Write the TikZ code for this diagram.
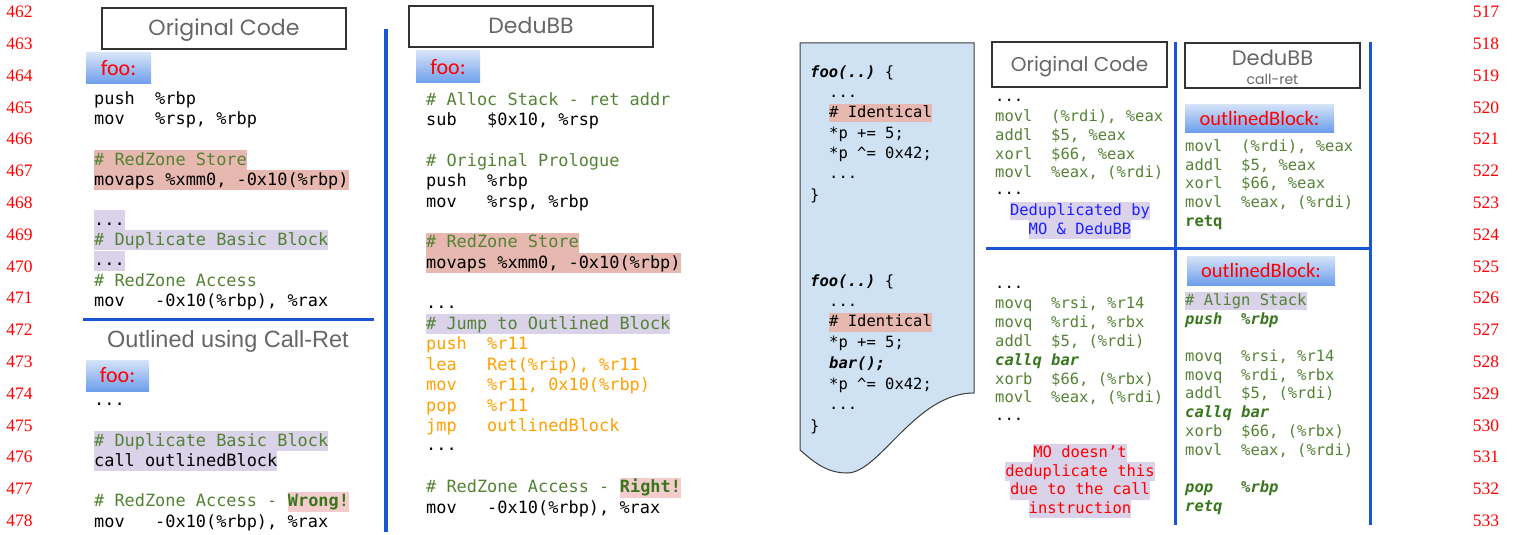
\documentclass[tikz,border=0pt]{standalone}
\usepackage{fontspec}
\usetikzlibrary{positioning}

\newfontfamily\codefont{DejaVu Sans Mono}
\newfontfamily\titlefont{Poppins}
\newfontfamily\tagfont{Carlito}
\newfontfamily\headfont{Liberation Sans}
\newfontfamily\numfont{Liberation Serif}

\definecolor{codegreen}{RGB}{84,130,53}
\definecolor{boldgreen}{RGB}{56,118,29}
\definecolor{codeorange}{RGB}{255,160,0}
\definecolor{hlpink}{RGB}{230,184,175}
\definecolor{hlpinklight}{RGB}{244,204,204}
\definecolor{hlpurple}{RGB}{217,210,233}
\definecolor{rulecol}{RGB}{25,85,210}
\definecolor{titlegray}{RGB}{102,102,102}
\definecolor{docfill}{RGB}{207,226,243}
\definecolor{docline}{RGB}{60,60,60}
\definecolor{tagtop}{RGB}{214,227,248}
\definecolor{tagbot}{RGB}{109,158,235}
\definecolor{dedublue}{RGB}{30,30,255}
\definecolor{numred}{RGB}{255,0,0}

\tikzset{
  code/.style={anchor=west, inner sep=0pt, text height=15pt, text depth=5pt,
    font=\codefont\fontsize{16.9pt}{20pt}\selectfont},
  smallcode/.style={anchor=west, inner sep=0pt, text height=13.7pt, text depth=4.8pt,
    font=\codefont\fontsize{15.5pt}{18.7pt}\selectfont},
  titlebox/.style={draw=black!80, line width=1.2pt, inner sep=0pt, text=titlegray,
    text height=15pt, text depth=0pt, font=\titlefont\fontsize{22pt}{26pt}\selectfont},
  tag/.style={inner sep=0pt, top color=tagtop, bottom color=tagbot, text=red,
    font=\tagfont\fontsize{22pt}{24pt}\selectfont},
  lineno/.style={text=numred, font=\numfont\fontsize{17.5pt}{19pt}\selectfont},
  divider/.style={rulecol, line width=3pt},
}

\begin{document}
\begin{tikzpicture}[x=1pt,y=-1pt]
\useasboundingbox (0,0) rectangle (1513,535);

% line numbers, left margin
\node[lineno] (ln462) at (19.5,12) {462};
\node[lineno] (ln463) at (19.5,43.8) {463};
\node[lineno] (ln464) at (19.5,75.6) {464};
\node[lineno] (ln465) at (19.5,107.4) {465};
\node[lineno] (ln466) at (19.5,139.2) {466};
\node[lineno] (ln467) at (19.5,171) {467};
\node[lineno] (ln468) at (19.5,202.8) {468};
\node[lineno] (ln469) at (19.5,234.6) {469};
\node[lineno] (ln470) at (19.5,266.4) {470};
\node[lineno] (ln471) at (19.5,298.2) {471};
\node[lineno] (ln472) at (19.5,330) {472};
\node[lineno] (ln473) at (19.5,361.8) {473};
\node[lineno] (ln474) at (19.5,393.6) {474};
\node[lineno] (ln475) at (19.5,425.4) {475};
\node[lineno] (ln476) at (19.5,457.2) {476};
\node[lineno] (ln477) at (19.5,489) {477};
\node[lineno] (ln478) at (19.5,520.8) {478};

% line numbers, right margin
\node[lineno] (ln517) at (1486,12) {517};
\node[lineno] (ln518) at (1486,43.8) {518};
\node[lineno] (ln519) at (1486,75.6) {519};
\node[lineno] (ln520) at (1486,107.4) {520};
\node[lineno] (ln521) at (1486,139.2) {521};
\node[lineno] (ln522) at (1486,171) {522};
\node[lineno] (ln523) at (1486,202.8) {523};
\node[lineno] (ln524) at (1486,234.6) {524};
\node[lineno] (ln525) at (1486,266.4) {525};
\node[lineno] (ln526) at (1486,298.2) {526};
\node[lineno] (ln527) at (1486,330) {527};
\node[lineno] (ln528) at (1486,361.8) {528};
\node[lineno] (ln529) at (1486,393.6) {529};
\node[lineno] (ln530) at (1486,425.4) {530};
\node[lineno] (ln531) at (1486,457.2) {531};
\node[lineno] (ln532) at (1486,489) {532};
\node[lineno] (ln533) at (1486,520.8) {533};

%%% left: original code
\node[titlebox, minimum width=244pt, minimum height=41pt] (origtitle) at (224,28.5) {Original Code};
\node[tag, minimum width=65pt, minimum height=31pt] (origfoo) at (118.5,68.5) {foo:};

\node[code] (o1) at (94,99) {push~~\%rbp};
\node[code] (o2) at (94,119.4) {mov~~~\%rsp, \%rbp};
\node[code, fill=hlpink, text=codegreen] (o3) at (94,160) {\#~RedZone~Store};
\node[code, fill=hlpink] (o4) at (94,180.4) {movaps \%xmm0, -0x10(\%rbp)};
\node[code, fill=hlpurple] (o5) at (94,220) {...};
\node[code, fill=hlpurple, text=codegreen] (o6) at (94,240.4) {\#~Duplicate Basic Block};
\node[code, fill=hlpurple] (o7) at (94,260.8) {...};
\node[code, text=codegreen] (o8) at (94,281.4) {\#~RedZone Access};
\node[code] (o9) at (94,301.8) {mov~~~-0x10(\%rbp), \%rax};

\draw[divider] (83,319) -- (374,319);

%%% left: outlined with call-ret
\node[text=titlegray, font=\headfont\fontsize{23.5pt}{26pt}\selectfont] (crhead) at (228,341) {Outlined using Call-Ret};
\node[tag, minimum width=63pt, minimum height=31pt] (crfoo) at (117.5,375.5) {foo:};

\node[code] (c1) at (94,400) {...};
\node[code, fill=hlpurple, text=codegreen] (c2) at (94,441) {\#~Duplicate Basic Block};
\node[code, fill=hlpurple] (c3) at (94,461.4) {call outlinedBlock};
\node[code, text=codegreen] (c4) at (94,501.6) {\#~RedZone Access -~\null};
\node[code, right=0pt of c4, fill=hlpinklight, text=boldgreen, font=\codefont\bfseries\fontsize{16.9pt}{20pt}\selectfont] (c4w) {Wrong!};
\node[code] (c5) at (94,522) {mov~~~-0x10(\%rbp), \%rax};

\draw[divider, line width=3.5pt] (386,29) -- (386,532);

%%% middle: DeduBB
\node[titlebox, minimum width=244pt, minimum height=41pt] (dedutitle) at (531,26.5) {DeduBB};
\node[tag, minimum width=64pt, minimum height=32pt] (dedufoo) at (448,67) {foo:};

\node[code, text=codegreen] (d1) at (426,100) {\#~Alloc Stack - ret addr};
\node[code] (d2) at (426,120.4) {sub~~~\$0x10, \%rsp};
\node[code, text=codegreen] (d3) at (426,161.2) {\#~Original Prologue};
\node[code] (d4) at (426,181.6) {push~~\%rbp};
\node[code] (d5) at (426,202) {mov~~~\%rsp, \%rbp};
\node[code, fill=hlpink, text=codegreen] (d6) at (426,242.8) {\#~RedZone Store};
\node[code, fill=hlpink] (d7) at (426,263.2) {movaps \%xmm0, -0x10(\%rbp)};
\node[code] (d8) at (426,303) {...};
\node[code, fill=hlpurple, text=codegreen] (d9) at (426,324.4) {\#~Jump to Outlined Block};
\node[code, text=codeorange] (d10) at (426,344.8) {push~~\%r11};
\node[code, text=codeorange] (d11) at (426,365.2) {lea~~~Ret(\%rip), \%r11};
\node[code, text=codeorange] (d12) at (426,385.6) {mov~~~\%r11, 0x10(\%rbp)};
\node[code, text=codeorange] (d13) at (426,406) {pop~~~\%r11};
\node[code, text=codeorange] (d14) at (426,426.4) {jmp~~~outlinedBlock};
\node[code] (d15) at (426,445.8) {...};
\node[code, text=codegreen] (d16) at (426,487.6) {\#~RedZone Access -~\null};
\node[code, right=0pt of d16, fill=hlpinklight, text=boldgreen, font=\codefont\bfseries\fontsize{16.9pt}{20pt}\selectfont] (d16r) {Right!};
\node[code] (d17) at (426,508) {mov~~~-0x10(\%rbp), \%rax};

%%% right: source snippet on a document sheet
\draw[docline, fill=docfill, line width=1pt] (800,43) -- (974,43) -- (974,393)
  .. controls (915,393) and (880,473) .. (847,473)
  .. controls (825,473) and (812,460) .. (800,450) -- cycle;

\node[smallcode] (s1) at (810,73) {{\bfseries\itshape foo(..)}~\{};
\node[smallcode] (s2) at (829,93.4) {...};
\node[smallcode, fill=hlpink] (s3) at (829,113) {\#~Identical};
\node[smallcode] (s4) at (829,133.6) {*p += 5;};
\node[smallcode] (s5) at (829,154.2) {*p \textasciicircum= 0x42;};
\node[smallcode] (s6) at (829,174.2) {...};
\node[smallcode] (s7) at (810,196) {\}};

\node[smallcode] (t1) at (810,282) {{\bfseries\itshape foo(..)}~\{};
\node[smallcode] (t2) at (829,302) {...};
\node[smallcode, fill=hlpink] (t3) at (829,322.4) {\#~Identical};
\node[smallcode] (t4) at (829,343.4) {*p += 5;};
\node[smallcode, font=\codefont\bfseries\itshape\fontsize{15.5pt}{18.7pt}\selectfont] (t5) at (829,364) {bar();};
\node[smallcode] (t6) at (829,384.8) {*p \textasciicircum= 0x42;};
\node[smallcode] (t7) at (829,404.6) {...};
\node[smallcode] (t8) at (810,427) {\}};

%%% right: original code
\node[titlebox, minimum width=175pt, minimum height=45pt, text height=14pt, font=\titlefont\fontsize{20pt}{24pt}\selectfont] (origtitle2) at (1079.5,64.5) {Original Code};

\node[smallcode] (r1) at (995,97) {...};
\node[smallcode, text=codegreen] (r2) at (995,117.3) {movl~~(\%rdi), \%eax};
\node[smallcode, text=codegreen] (r3) at (995,136) {addl~~\$5, \%eax};
\node[smallcode, text=codegreen] (r4) at (995,154.7) {xorl~~\$66, \%eax};
\node[smallcode, text=codegreen] (r5) at (995,173.4) {movl~~\%eax, (\%rdi)};
\node[smallcode] (r6) at (995,190.5) {...};
\node[smallcode, anchor=center, fill=hlpurple, text=dedublue] (r7) at (1080,211) {Deduplicated by};
\node[smallcode, anchor=center, fill=hlpurple, text=dedublue] (r8) at (1080,229.6) {MO \& DeduBB};

\node[smallcode] (b1) at (995,284) {...};
\node[smallcode, text=codegreen] (b2) at (995,304.4) {movq~~\%rsi, \%r14};
\node[smallcode, text=codegreen] (b3) at (995,323.2) {movq~~\%rdi, \%rbx};
\node[smallcode, text=codegreen] (b4) at (995,342) {addl~~\$5, (\%rdi)};
\node[smallcode, text=boldgreen, font=\codefont\bfseries\itshape\fontsize{15.5pt}{18.7pt}\selectfont] (b5) at (995,360.8) {callq bar};
\node[smallcode, text=codegreen] (b6) at (995,379.6) {xorb~~\$66, (\%rbx)};
\node[smallcode, text=codegreen] (b7) at (995,398.4) {movl~~\%eax, (\%rdi)};
\node[smallcode] (b8) at (995,415.6) {...};
\node[smallcode, anchor=center, fill=hlpurple, text=red] (b9) at (1080,453) {MO doesn’t};
\node[smallcode, anchor=center, fill=hlpurple, text=red] (b10) at (1080,471.7) {deduplicate this};
\node[smallcode, anchor=center, fill=hlpurple, text=red] (b11) at (1080,490.4) {due to the call};
\node[smallcode, anchor=center, fill=hlpurple, text=red] (b12) at (1080,509.1) {instruction};

%%% right: DeduBB call-ret
\node[titlebox, minimum width=175pt, minimum height=45pt] (dedutitle2) at (1272.5,65.5) {};
\node[text=titlegray, font=\titlefont\fontsize{21pt}{24pt}\selectfont] (dedutitle2a) at (1272.5,58) {DeduBB};
\node[text=titlegray, font=\titlefont\fontsize{14pt}{16pt}\selectfont] (dedutitle2b) at (1272.5,79) {call-ret};

\node[tag, minimum width=149pt, minimum height=28pt, font=\tagfont\fontsize{20.5pt}{22pt}\selectfont] (obtag1) at (1259.5,118) {outlinedBlock:};
\node[smallcode, text=codegreen] (p1) at (1185,147) {movl~~(\%rdi), \%eax};
\node[smallcode, text=codegreen] (p2) at (1185,165.7) {addl~~\$5, \%eax};
\node[smallcode, text=codegreen] (p3) at (1185,184.4) {xorl~~\$66, \%eax};
\node[smallcode, text=codegreen] (p4) at (1185,203.1) {movl~~\%eax, (\%rdi)};
\node[smallcode, text=boldgreen, font=\codefont\bfseries\fontsize{15.5pt}{18.7pt}\selectfont] (p5) at (1185,221.8) {retq};

\node[tag, minimum width=148pt, minimum height=29pt, font=\tagfont\fontsize{20.5pt}{22pt}\selectfont] (obtag2) at (1261,270.5) {outlinedBlock:};
\node[smallcode, fill=hlpurple, text=codegreen] (q1) at (1185,301) {\#~Align Stack};
\node[smallcode, text=boldgreen, font=\codefont\bfseries\itshape\fontsize{15.5pt}{18.7pt}\selectfont] (q2) at (1185,319.7) {push~~\%rbp};
\node[smallcode, text=codegreen] (q3) at (1185,357.1) {movq~~\%rsi, \%r14};
\node[smallcode, text=codegreen] (q4) at (1185,375.8) {movq~~\%rdi, \%rbx};
\node[smallcode, text=codegreen] (q5) at (1185,394.5) {addl~~\$5, (\%rdi)};
\node[smallcode, text=boldgreen, font=\codefont\bfseries\itshape\fontsize{15.5pt}{18.7pt}\selectfont] (q6) at (1185,413.2) {callq bar};
\node[smallcode, text=codegreen] (q7) at (1185,431.9) {xorb~~\$66, (\%rbx)};
\node[smallcode, text=codegreen] (q8) at (1185,450.6) {movl~~\%eax, (\%rdi)};
\node[smallcode, text=boldgreen, font=\codefont\bfseries\itshape\fontsize{15.5pt}{18.7pt}\selectfont] (q9) at (1185,488) {pop~~~\%rbp};
\node[smallcode, text=boldgreen, font=\codefont\bfseries\itshape\fontsize{15.5pt}{18.7pt}\selectfont] (q10) at (1185,506.7) {retq};

% dividers of the right table
\draw[divider] (1175,42) -- (1175,525);
\draw[divider] (1370,42) -- (1370,525);
\draw[divider] (986,248) -- (1370,248);

\end{tikzpicture}
\end{document}
